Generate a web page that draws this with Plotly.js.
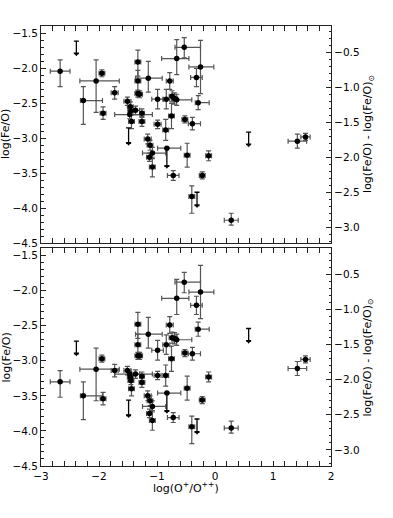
<!DOCTYPE html>
<html><head><meta charset="utf-8">
<script src="https://cdn.plot.ly/plotly-3.0.1.min.js"></script>
<style>html,body{margin:0;padding:0;background:#fff}#c{width:393px;height:518px}</style>
</head><body><div id="c"></div>
<script>
// log(O+/O++) for each object and its asymmetric errors
var xVal  = [-2.67,-2.27,-2.05,-1.95,-1.93,-1.73,-1.51,-1.47,-1.46,-1.45,-1.44,-1.37,-1.33,-1.33,-1.33,-1.30,-1.26,-1.26,-1.15,-1.16,-1.12,-1.08,-1.13,-1.08,-0.99,-0.99,-0.84,-0.85,-0.83,-0.78,-0.74,-0.70,-0.66,-0.75,-0.66,-0.53,-0.72,-0.52,-0.48,-0.39,-0.40,-0.32,-0.29,-0.25,-0.11,-0.22,0.28,1.42,1.56];
var xErrM = [0.17,0.05,0.28,0.05,0.05,0.06,0.06,0.26,0.05,0.05,0.05,0.07,0.05,0.05,0.05,0.05,0.04,0.05,0.22,0.06,0.05,0.17,0.05,0.05,0.10,0.06,0.06,0.05,0.16,0.06,0.05,0.05,0.05,0.05,0.26,0.16,0.10,0.05,0.05,0.07,0.05,0.10,0.05,0.20,0.05,0.05,0.12,0.16,0.08];
var xErrP = [0.17,0.33,0.40,0.05,0.05,0.06,0.06,0.39,0.05,0.05,0.05,0.07,0.05,0.05,0.05,0.05,0.04,0.05,0.24,0.06,0.05,0.23,0.05,0.05,0.10,0.06,0.06,0.05,0.24,0.06,0.05,0.05,0.26,0.05,0.21,0.28,0.10,0.05,0.05,0.14,0.05,0.10,0.19,0.23,0.05,0.05,0.12,0.16,0.08];
// log(Fe/O) upper panel, lower panel, and errors
var feTop = [-2.04,-2.46,-2.18,-2.07,-2.64,-2.35,-2.47,-2.66,-2.55,-2.61,-2.76,-2.60,-1.91,-2.18,-2.36,-2.37,-2.64,-2.76,-2.14,-3.01,-3.10,-3.21,-3.27,-3.41,-2.44,-2.80,-2.44,-2.88,-3.14,-2.18,-2.40,-2.43,-2.45,-2.68,-1.86,-1.70,-3.53,-2.73,-3.24,-2.79,-3.83,-2.13,-2.49,-1.98,-3.25,-3.53,-4.17,-3.04,-2.98];
var feBot = [-3.30,-3.50,-3.12,-2.97,-3.54,-3.14,-3.14,-3.19,-3.23,-3.28,-3.40,-3.19,-2.48,-2.77,-2.93,-2.93,-3.22,-3.31,-2.62,-3.50,-3.57,-3.65,-3.75,-3.85,-2.85,-3.21,-2.77,-3.21,-3.46,-2.49,-2.67,-2.68,-2.70,-2.97,-2.11,-1.88,-3.81,-2.89,-3.39,-2.90,-3.94,-2.21,-2.55,-2.02,-3.23,-3.56,-3.96,-3.11,-2.98];
var feErrM = [0.22,0.34,0.45,0.05,0.09,0.09,0.06,0.06,0.07,0.06,0.10,0.06,0.20,0.15,0.05,0.05,0.06,0.07,0.20,0.07,0.07,0.08,0.06,0.14,0.14,0.06,0.14,0.15,0.00,0.12,0.08,0.08,0.08,0.18,0.23,0.15,0.07,0.05,0.17,0.09,0.24,0.13,0.10,0.38,0.07,0.05,0.07,0.10,0.05];
var feErrP = [0.16,0.20,0.30,0.05,0.09,0.09,0.06,0.06,0.07,0.06,0.10,0.06,0.17,0.15,0.05,0.05,0.06,0.07,0.24,0.07,0.07,0.08,0.06,0.14,0.14,0.06,0.14,0.15,0.00,0.12,0.08,0.08,0.08,0.18,0.27,0.14,0.07,0.05,0.17,0.09,0.15,0.13,0.10,0.38,0.07,0.05,0.10,0.10,0.05];
// upper limits (arrows)
var limX    = [-2.39,-1.49,-0.83,-0.31,0.58];
var limTop  = [-1.61,-2.85,-3.14,-3.77,-2.91];
var limBot  = [-2.72,-3.56,-3.46,-3.83,-2.54];
var limLen  = [0.18,0.22,0.26,0.19,0.18];
var solarFeO = -1.27;

var ebCol = '#555';
function pts(yv, xa, ya){
  return {type:'scatter', mode:'markers', x:xVal, y:yv, xaxis:xa, yaxis:ya,
    marker:{color:'#000', size:5.5, symbol:'circle'},
    error_x:{type:'data', symmetric:false, array:xErrP, arrayminus:xErrM, color:ebCol, thickness:1.2, width:2.5},
    error_y:{type:'data', symmetric:false, array:feErrP, arrayminus:feErrM, color:ebCol, thickness:1.2, width:2.5},
    showlegend:false, hoverinfo:'skip'};
}
function lims(yv, xa, ya){
  var zeros = limX.map(function(){return 0;});
  return [{type:'scatter', mode:'markers', x:limX, y:yv, xaxis:xa, yaxis:ya,
    marker:{color:'#000', size:0.1, opacity:0},
    error_y:{type:'data', symmetric:false, array:zeros, arrayminus:limLen, color:'#000', thickness:1.3, width:2.5},
    showlegend:false, hoverinfo:'skip'},
   {type:'scatter', mode:'markers', x:limX, y:yv.map(function(v,i){return v-limLen[i];}), xaxis:xa, yaxis:ya,
    marker:{color:'#000', size:5, symbol:'triangle-down'}, showlegend:false, hoverinfo:'skip'}];
}
var data = [pts(feTop,'x2','y'), pts(feBot,'x','y2')].concat(lims(limTop,'x2','y'), lims(limBot,'x','y2'));
data.push({type:'scatter', x:[null], y:[null], xaxis:'x2', yaxis:'y3', showlegend:false, hoverinfo:'skip'});
data.push({type:'scatter', x:[null], y:[null], xaxis:'x', yaxis:'y4', showlegend:false, hoverinfo:'skip'});

var F = {family:'DejaVu Sans', size:10.5, color:'#000'};
var yr = [-4.5, -1.395];
var yrR = [yr[0]-solarFeO, yr[1]-solarFeO];
var common = {showline:true, linecolor:'#222', linewidth:1, ticks:'inside', ticklen:5, tickcolor:'#222', tickwidth:1,
  showgrid:false, zeroline:false, tickfont:F};
function ax(o){ var r = {}; for (var k in common) r[k]=common[k]; for (var k in o) r[k]=o[k]; return r; }
var xMinor = {ticks:'inside', ticklen:2.5, dtick:0.2, tickcolor:'#222', showgrid:false};
var yMinor = {ticks:'inside', ticklen:2.5, dtick:0.1, tickcolor:'#222', showgrid:false};

var layout = {
  width:393, height:518, paper_bgcolor:'#fff', plot_bgcolor:'#fff',
  margin:{l:41, r:62, t:26, b:52},
  font:F,
  xaxis: ax({domain:[0,1], anchor:'y2', range:[-3,2], dtick:1, tick0:0, mirror:'allticks', minor:xMinor}),
  xaxis2: ax({domain:[0,1], anchor:'y', range:[-3,2], dtick:1, tick0:0, mirror:'allticks', showticklabels:false, matches:'x', minor:xMinor}),
  yaxis: ax({domain:[0.506,1], anchor:'x2', range:yr, dtick:0.5, tick0:0, tickformat:'.1f', minor:yMinor}),
  yaxis2: ax({domain:[0,0.495], anchor:'x', range:yr, dtick:0.5, tick0:0, tickformat:'.1f', minor:yMinor}),
  yaxis3: ax({overlaying:'y', side:'right', anchor:'x2', range:yrR, dtick:0.5, tick0:0, tickformat:'.1f', minor:yMinor}),
  yaxis4: ax({overlaying:'y2', side:'right', anchor:'x', range:yrR, dtick:0.5, tick0:0, tickformat:'.1f', minor:yMinor}),
  annotations:[
    {text:'log(O<sup>+</sup>/O<sup>++</sup>)', xref:'paper', yref:'paper', x:0.5, y:-0.027, xanchor:'center', yanchor:'top', showarrow:false, font:{family:'DejaVu Sans', size:11, color:'#000'}},
    {text:'log(Fe/O)', xref:'paper', yref:'paper', x:-0.12, y:0.755, xanchor:'center', yanchor:'middle', textangle:-90, showarrow:false, font:{family:'DejaVu Sans', size:11, color:'#000'}},
    {text:'log(Fe/O)', xref:'paper', yref:'paper', x:-0.12, y:0.247, xanchor:'center', yanchor:'middle', textangle:-90, showarrow:false, font:{family:'DejaVu Sans', size:11, color:'#000'}},
    {text:'log(Fe/O) - log(Fe/O)<sub>⊙</sub>', xref:'paper', yref:'paper', x:1.128, y:0.755, xanchor:'center', yanchor:'middle', textangle:-90, showarrow:false, font:{family:'DejaVu Sans', size:11, color:'#000'}},
    {text:'log(Fe/O) - log(Fe/O)<sub>⊙</sub>', xref:'paper', yref:'paper', x:1.128, y:0.247, xanchor:'center', yanchor:'middle', textangle:-90, showarrow:false, font:{family:'DejaVu Sans', size:11, color:'#000'}}
  ]
};
Plotly.newPlot('c', data, layout, {staticPlot:true, displayModeBar:false});
</script></body></html>
